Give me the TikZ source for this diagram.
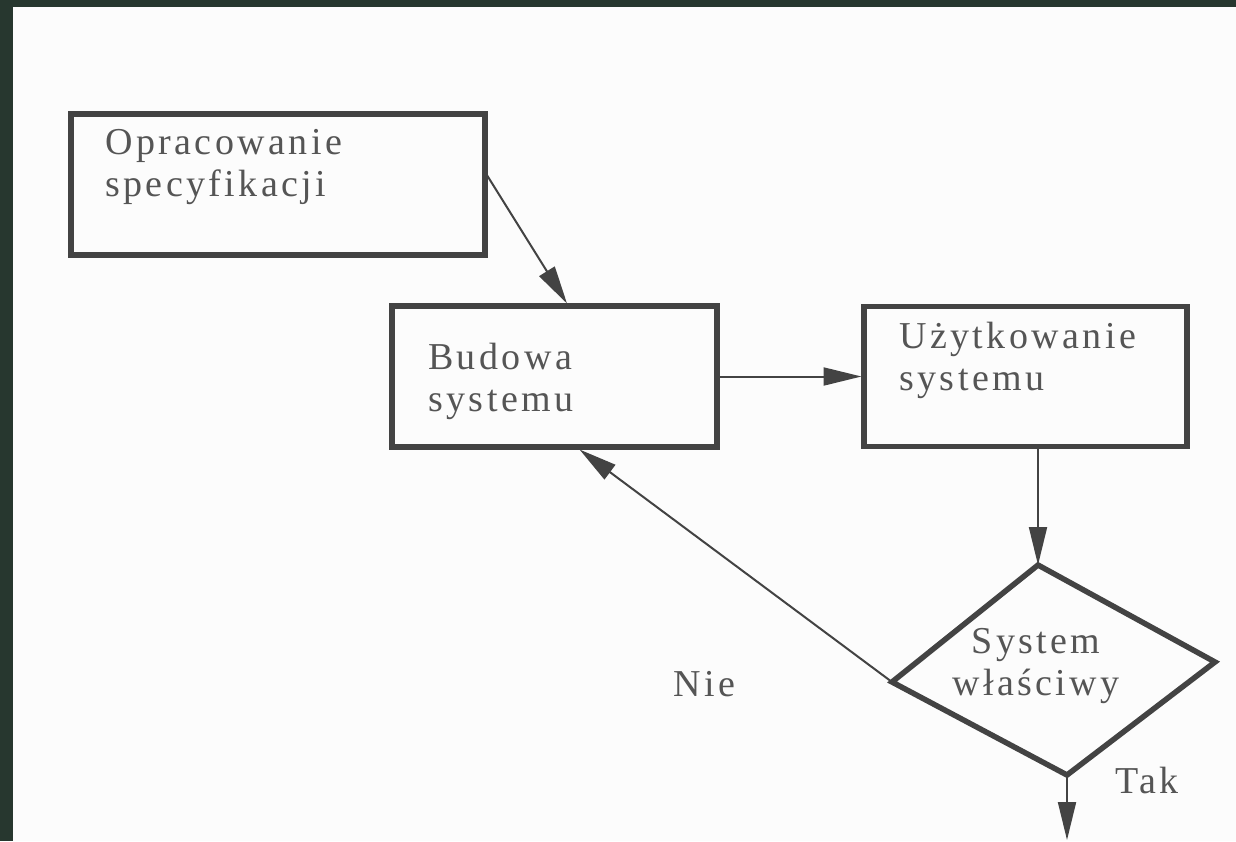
\documentclass[tikz,border=0pt]{standalone}
\usepackage{fontspec}
\setmainfont{Liberation Serif}
\newfontfamily\lblfont[LetterSpace=9]{Liberation Serif}
\usetikzlibrary{arrows.meta}
\definecolor{frame}{HTML}{27372F}
\definecolor{paper}{HTML}{FCFCFC}
\definecolor{ink}{HTML}{434343}
\definecolor{txt}{HTML}{555555}
\begin{document}
\begin{tikzpicture}[x=1pt,y=-1pt,
  box/.style={draw=ink,line width=5.5pt,rectangle,inner sep=0pt,outer sep=0pt},
  lbl/.style={text=txt,font=\lblfont\fontsize{38}{42}\selectfont,inner sep=0pt,anchor=base west},
  conn/.style={draw=ink,line width=2pt,-{Triangle[length=38pt,width=18pt]}}]
\fill[frame] (0,0) rectangle (1236,841);
\fill[paper] (13,7) rectangle (1236,841);
\useasboundingbox (0,0) rectangle (1236,841);

% boxes
\node[box,minimum width=414pt,minimum height=141pt] (b1) at (278,184.5) {};
\node[box,minimum width=325pt,minimum height=141pt] (b2) at (554.5,376.5) {};
\node[box,minimum width=323pt,minimum height=140pt] (b3) at (1025.5,376.5) {};

% decision diamond
\coordinate (dT) at (1038,565);
\coordinate (dR) at (1215,662);
\coordinate (dB) at (1067,775);
\coordinate (dL) at (892,682);
\draw[ink,line width=5.5pt,line join=miter] (dT) -- (dR) -- (dB) -- (dL) -- cycle;

% labels
\node[lbl] (t1) at (105,154) {\begin{tabular}[t]{@{}l@{}}Opracowanie\\specyfikacji\end{tabular}};
\node[lbl] (t2) at (428,369) {\begin{tabular}[t]{@{}l@{}}Budowa\\systemu\end{tabular}};
\node[lbl] (t3) at (899,348) {\begin{tabular}[t]{@{}l@{}}Użytkowanie\\systemu\end{tabular}};
\node[lbl,anchor=base] (d) at (1036,653) {\begin{tabular}[t]{@{}c@{}}System\\właściwy\end{tabular}};
\node[lbl] (nie) at (673,696) {Nie};
\node[lbl] (tak) at (1115,793) {Tak};

% connectors
\coordinate (out) at (1067,840);
\draw[conn] ([yshift=12.5pt]b1.east) -- ([xshift=12.5pt,yshift=2.5pt]b2.north);
\draw[conn] (b2.east) -- ([xshift=-2.5pt]b3.west);
\draw[conn] ([xshift=12.5pt]b3.south) -- (dT);
\draw[conn] (dL) -- ([xshift=25pt,yshift=-2.5pt]b2.south);
\draw[conn] (dB) -- (out);
\end{tikzpicture}
\end{document}
